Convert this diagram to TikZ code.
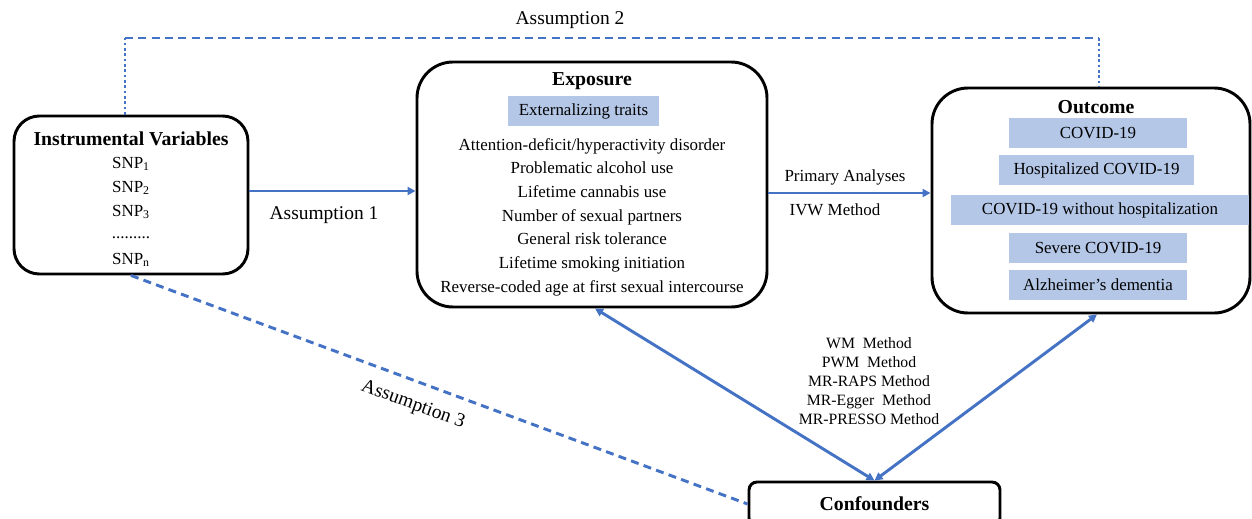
\documentclass[tikz,border=0pt]{standalone}
\usepackage{fontspec}
\setmainfont{Liberation Serif}
\usetikzlibrary{arrows.meta}
\definecolor{lblue}{HTML}{4472C4}
\definecolor{fblue}{HTML}{B4C7E7}
\begin{document}
\begin{tikzpicture}[x=0.75pt,y=-0.75pt,
  bigbox/.style={draw=black,line width=2.2pt,rounded corners=#1,inner sep=0pt},
  fillbox/.style={fill=fblue,inner sep=0pt,minimum height=22.5pt,font=\fontsize{12.7}{14}\selectfont},
  txt/.style={inner sep=0pt,font=\fontsize{12.7}{14}\selectfont},
  lbl/.style={inner sep=0pt,font=\fontsize{14.6}{16}\selectfont},
  ttl/.style={inner sep=0pt,font=\fontsize{14.8}{17}\selectfont\bfseries},
  conn/.style={draw=lblue,line width=2.2pt},
  tip/.style={-{Triangle[length=6pt,width=6pt]}},
  dtip/.style={{Triangle[length=6pt,width=6pt]}-{Triangle[length=6pt,width=6pt]}},
  dashln/.style={conn,dash pattern=on 6pt off 4pt},
  dotln/.style={conn,dash pattern=on 2pt off 2pt}]
\useasboundingbox (0,0) rectangle (1252,518);
\clip (0,0) rectangle (1252,518);

% boxes
\node[bigbox=19pt,minimum width=175.5pt,minimum height=118.5pt] (IV) at (131,195) {};
\node[bigbox=27pt,minimum width=262.5pt,minimum height=183.75pt] (EXP) at (592,184.5) {};
\node[bigbox=27pt,minimum width=238.5pt,minimum height=168.75pt] (OUT) at (1091,200.5) {};
\node[bigbox=6pt,minimum width=188.25pt,minimum height=33pt] (CONF) at (874.5,504) {};

% IV texts
\node[ttl] (ivt) at (131,139) {Instrumental Variables};
\node[txt] (s1) at (131,164) {SNP\textsubscript{1}};
\node[txt] (s2) at (131,188) {SNP\textsubscript{2}};
\node[txt] (s3) at (131,212) {SNP\textsubscript{3}};
\node[txt] (sd) at (131,238) {.........};
\node[txt] (sn) at (131,260) {SNP\textsubscript{n}};

% Exposure texts
\node[ttl] (expt) at (592,81) {Exposure};
\node[fillbox,minimum width=113.25pt] (ext) at (583.5,111) {Externalizing traits};
\node[txt,align=center,font=\fontsize{12.7}{17.75}\selectfont] (expl) at (592,217) {Attention-deficit/hyperactivity disorder\\Problematic alcohol use\\Lifetime cannabis use\\Number of sexual partners\\General risk tolerance\\Lifetime smoking initiation\\Reverse-coded age at first sexual intercourse};

% Outcome texts
\node[ttl] (outt) at (1096,107) {Outcome};
\node[fillbox,minimum width=133.5pt] (o1) at (1098,133) {COVID-19};
\node[fillbox,minimum width=146.25pt] (o2) at (1096.5,170) {Hospitalized COVID-19};
\node[fillbox,minimum width=223.5pt] (o3) at (1100,210) {COVID-19 without hospitalization};
\node[fillbox,minimum width=133.5pt] (o4) at (1098,248) {Severe COVID-19};
\node[fillbox,minimum width=133.5pt] (o5) at (1098,285) {Alzheimer’s dementia};

% Confounders
\node[ttl] (conft) at (874.5,504) {Confounders};

% Assumption 2
\coordinate (a2l) at (125,38);
\coordinate (a2r) at (1099,38);
\draw[dotln] (a2l |- IV.north) -- (a2l);
\draw[dashln] (a2l) -- (a2r);
\draw[dotln] (a2r) -- (a2r |- OUT.north);
\node[lbl] (a2) at (570,20) {Assumption 2};

% Assumption 1
\draw[conn,tip] (IV.east |- 0,191) -- (EXP.west |- 0,191);
\node[lbl] (a1) at (324,215) {Assumption 1};

% Primary
\draw[conn,tip] (EXP.east |- 0,193) -- (OUT.west |- 0,193);
\node[txt] (pa) at (845,177) {Primary Analyses};
\node[txt] (ivw) at (835,210) {IVW Method};

% double arrows
\draw[conn,dtip] ([xshift=2.25pt]EXP.south) -- (CONF.north);
\draw[conn,dtip] (CONF.north) -- ([xshift=4.5pt]OUT.south);

% methods
\node[txt,align=center,font=\fontsize{11.8}{14.25}\selectfont] (meth) at (869,381) {WM~~Method\\PWM~~Method\\MR-RAPS Method\\MR-Egger~~Method\\MR-PRESSO Method};

% Assumption 3
\draw[dashln] (IV.south) -- (CONF.west);
\node[lbl,rotate=-20] (a3) at (413,405) {Assumption 3};
\end{tikzpicture}
\end{document}
